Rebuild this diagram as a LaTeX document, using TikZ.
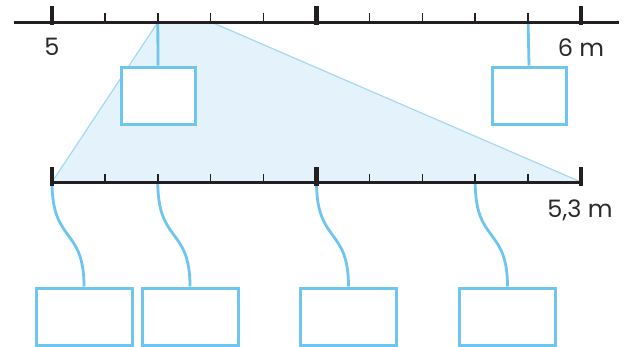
\documentclass[tikz,border=0pt]{standalone}
\usepackage{fontspec}
\setmainfont{Poppins}
\definecolor{axis}{HTML}{231F20}
\definecolor{txt}{HTML}{2A2A2A}
\definecolor{boxblue}{HTML}{6EC6F0}
\definecolor{zoomfill}{HTML}{E3F2FB}
\definecolor{zoomedge}{HTML}{A6D8F2}
\tikzset{
  answerbox/.style={draw=boxblue, line width=3pt, fill=white, inner sep=0pt, minimum height=57pt},
  smallbox/.style={answerbox, minimum width=74pt},
  widebox/.style={answerbox, minimum width=96pt},
  link/.style={draw=boxblue, line width=2.8pt},
  axisline/.style={draw=axis, line width=3pt},
  majortick/.style={draw=axis, line width=4.5pt},
  minortick/.style={draw=axis, line width=1.5pt},
  lbl/.style={font=\fontsize{24}{26}\selectfont, text=txt, inner sep=0pt, anchor=base}
}
\begin{document}
\begin{tikzpicture}[x=1pt,y=-1pt]
\useasboundingbox (0,0) rectangle (627,346);
% shaded zoom region
\fill[zoomfill] (52,182) -- (158,22) -- (211,22) -- (581,182) -- cycle;
\draw[zoomedge, line width=1.2pt] (52,182) -- (158,22);
\draw[zoomedge, line width=1.2pt] (211,22) -- (581,182);
% tick positions
\foreach \i in {0,...,10} {
  \coordinate (T\i) at ({52+52.9*\i},22);
  \coordinate (B\i) at ({52+52.9*\i},182);
}
% top boxes and links
\node[smallbox] (ta) at (158,95.5) {};
\node[smallbox] (tb) at (529,95.5) {};
\draw[link] (T2) -- (ta.north);
\draw[link] (T9) -- (tb.north);
% bottom boxes and links
\node[widebox] (ba) at (84,316.5) {};
\node[widebox] (bb) at (190,316.5) {};
\node[widebox] (bc) at (348.5,316.5) {};
\node[widebox] (bd) at (507.5,316.5) {};
\draw[link] (B0) .. controls +(0,62) and +(0,-60) .. (ba.north);
\draw[link] (B2) .. controls +(0,62) and +(0,-60) .. (bb.north);
\draw[link] (B5) .. controls +(0,62) and +(0,-60) .. (bc.north);
\draw[link] (B8) .. controls +(0,62) and +(0,-60) .. (bd.north);
% top axis
\coordinate (tl) at (14,22);
\coordinate (tr) at (619,22);
\draw[axisline] (tl) -- (tr);
\foreach \i in {1,2,3,4,6,7,8,9} {
  \draw[minortick] ([yshift=9pt]T\i) -- ([yshift=-2pt]T\i);
}
\foreach \i in {0,5,10} {
  \draw[majortick] ([yshift=16pt]T\i) -- ([yshift=-3pt]T\i);
}
% bottom axis
\draw[axisline] (B0) -- (B10);
\foreach \i in {1,2,3,4,6,7,8,9} {
  \draw[minortick] ([yshift=8pt]B\i) -- ([yshift=-1pt]B\i);
}
\foreach \i in {0,5,10} {
  \draw[majortick] ([yshift=15pt]B\i) -- ([yshift=-4pt]B\i);
}
% labels
\node[lbl] (l5) at (52,55) {5};
\node[lbl] (l6) at (581,56) {6 m};
\node[lbl] (l53) at (580,217) {5,3 m};
\end{tikzpicture}
\end{document}
